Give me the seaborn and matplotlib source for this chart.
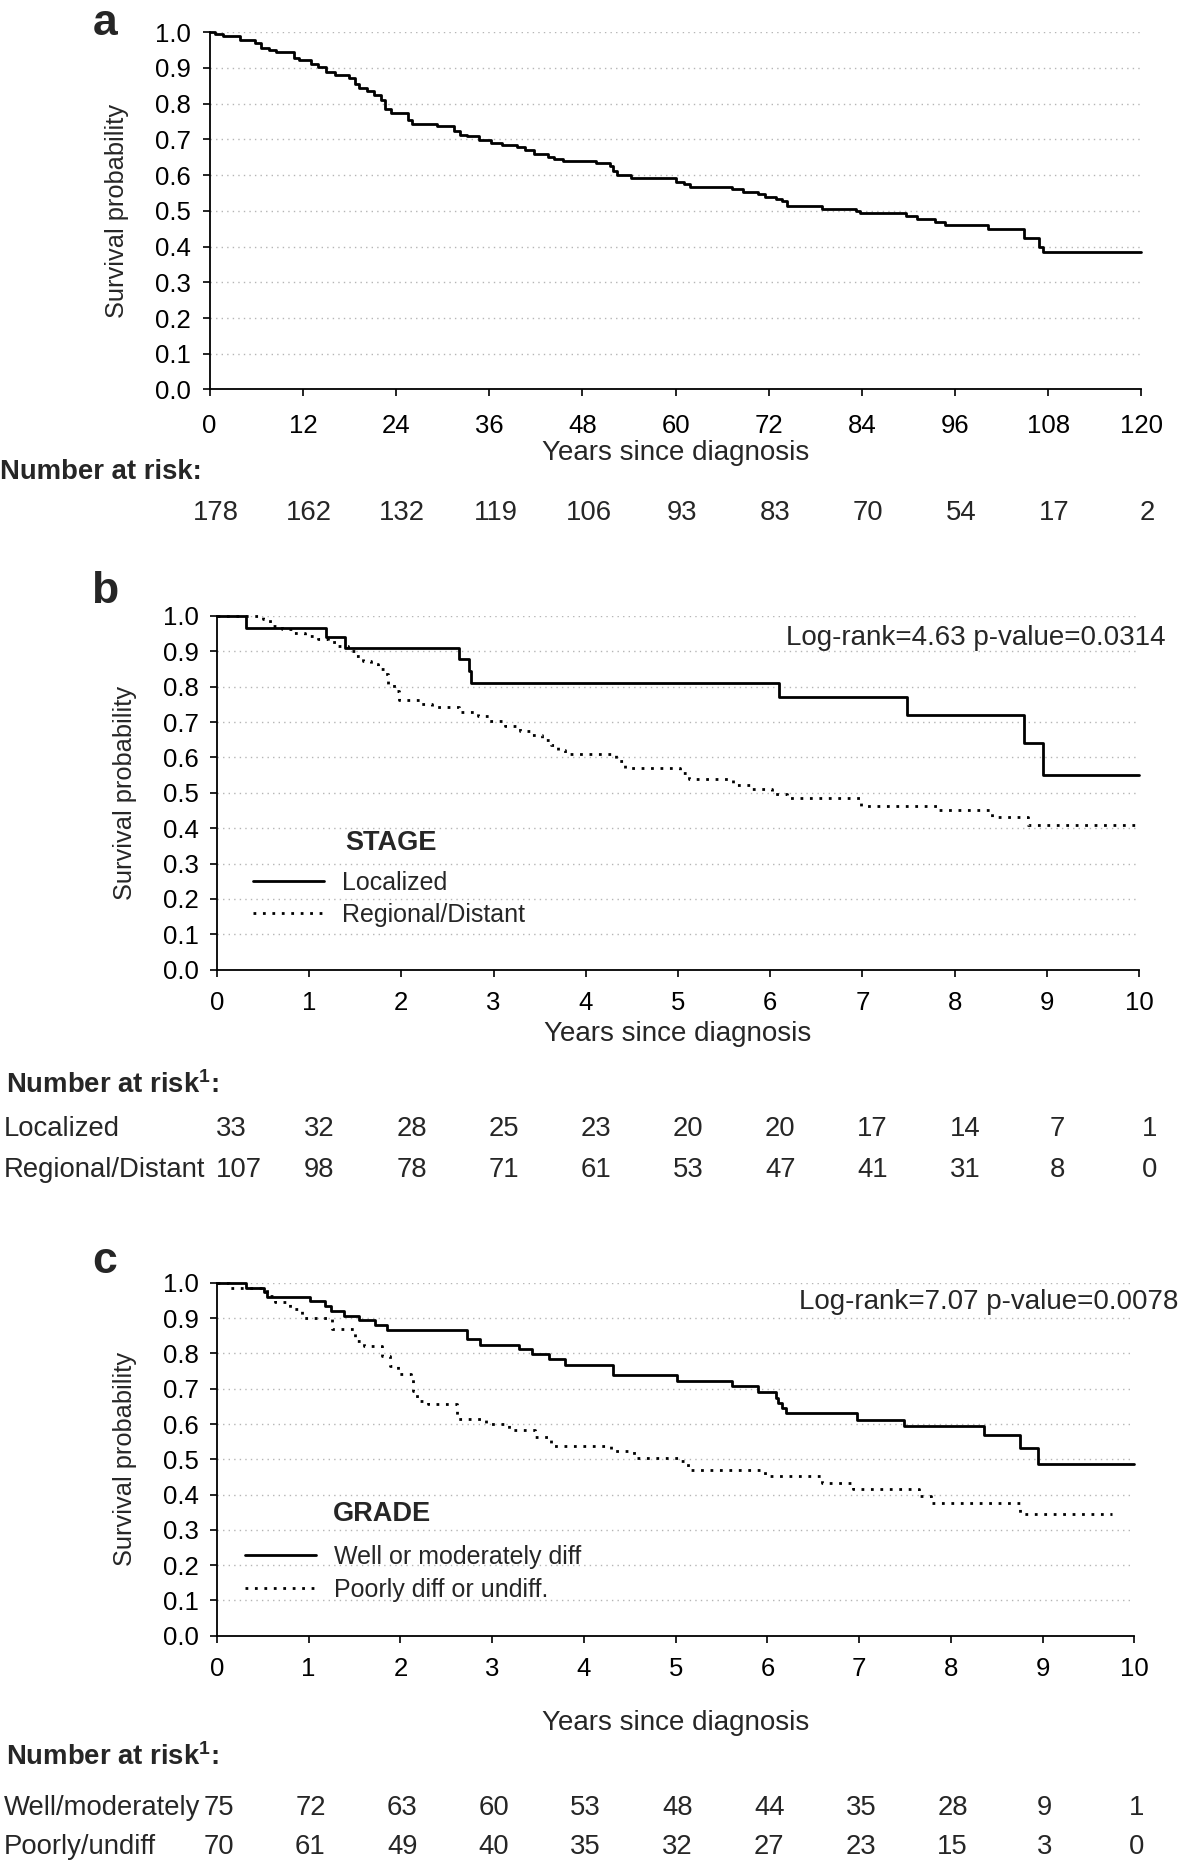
import numpy as np
import pandas as pd
import matplotlib
matplotlib.use("Agg")
import matplotlib.pyplot as plt
import seaborn as sns
from matplotlib import transforms
from matplotlib.lines import Line2D

# ---------------- data ----------------
# Panel a: overall survival (x axis in months, labelled as in original)
t_all = [0, 0.7, 1.7, 3.9, 5.9, 6.6, 7.6, 8.6, 10.8, 11.5, 13.0, 14.0, 15.0, 16.2, 17.9,
         18.7, 19.2, 20.2, 21.1, 22.1, 22.6, 23.4, 25.6, 26.1, 29.3, 31.5, 32.2, 33.2,
         34.7, 36.2, 37.7, 39.6, 40.6, 41.8, 43.6, 44.3, 45.5, 49.7, 51.5, 51.9, 52.4,
         54.2, 60.1, 61.1, 61.8, 67.3, 68.7, 70.6, 71.5, 72.9, 73.7, 74.4, 78.9, 83.2,
         83.7, 89.7, 91.1, 93.4, 94.7, 100.2, 104.9, 106.8, 107.3, 120]
s_all = [1.0, 0.995, 0.99, 0.978, 0.969, 0.955, 0.951, 0.944, 0.928, 0.921, 0.912, 0.902,
         0.888, 0.879, 0.873, 0.856, 0.845, 0.835, 0.823, 0.811, 0.786, 0.774, 0.755,
         0.744, 0.738, 0.724, 0.712, 0.709, 0.698, 0.691, 0.685, 0.679, 0.670, 0.660,
         0.651, 0.645, 0.640, 0.635, 0.624, 0.612, 0.600, 0.593, 0.580, 0.574, 0.567,
         0.560, 0.553, 0.547, 0.540, 0.533, 0.527, 0.513, 0.506, 0.500, 0.493, 0.486,
         0.478, 0.470, 0.460, 0.450, 0.423, 0.400, 0.384, 0.384]
ticks_a = [0, 12, 24, 36, 48, 60, 72, 84, 96, 108, 120]
risk_all = [178, 162, 132, 119, 106, 93, 83, 70, 54, 17, 2]

# Panel b: by stage (years)
t_loc = [0, 0.32, 1.18, 1.39, 2.62, 2.73, 2.755, 6.09, 7.48, 8.75, 8.96, 10.0]
s_loc = [1.0, 0.967, 0.939, 0.908, 0.877, 0.845, 0.809, 0.772, 0.72, 0.640, 0.549, 0.549]
t_reg = [0, 0.50, 0.58, 0.71, 0.84, 0.96, 1.10, 1.20, 1.30, 1.42, 1.50, 1.58, 1.67, 1.75,
         1.82, 1.86, 1.92, 1.98, 2.21, 2.33, 2.62, 2.83, 2.95, 3.12, 3.29, 3.42, 3.52,
         3.62, 3.70, 3.78, 4.33, 4.42, 5.02, 5.12, 5.60, 5.80, 6.02, 6.18, 6.98, 7.81,
         8.41, 8.79, 10.0]
s_reg = [1.0, 0.990, 0.972, 0.962, 0.953, 0.944, 0.934, 0.925, 0.915, 0.901, 0.887, 0.873,
         0.864, 0.850, 0.836, 0.808, 0.789, 0.761, 0.751, 0.742, 0.728, 0.718, 0.704,
         0.690, 0.676, 0.662, 0.648, 0.634, 0.620, 0.610, 0.590, 0.570, 0.557, 0.540,
         0.521, 0.510, 0.497, 0.486, 0.463, 0.452, 0.432, 0.408, 0.408]
risk_loc = [33, 32, 28, 25, 23, 20, 20, 17, 14, 7, 1]
risk_reg = [107, 98, 78, 71, 61, 53, 47, 41, 31, 8, 0]

# Panel c: by grade (years)
t_well = [0, 0.32, 0.51, 0.55, 1.01, 1.18, 1.24, 1.39, 1.55, 1.72, 1.85, 2.73, 2.87, 3.29,
          3.43, 3.62, 3.79, 4.32, 5.02, 5.61, 5.90, 6.09, 6.12, 6.16, 6.20, 6.98, 7.49,
          8.36, 8.75, 8.95, 10.0]
s_well = [1.0, 0.986, 0.973, 0.961, 0.948, 0.935, 0.921, 0.907, 0.895, 0.881, 0.866,
          0.841, 0.825, 0.812, 0.798, 0.784, 0.768, 0.739, 0.723, 0.708, 0.691, 0.675,
          0.659, 0.645, 0.630, 0.611, 0.594, 0.568, 0.531, 0.486, 0.486]
t_poor = [0, 0.13, 0.55, 0.63, 0.80, 0.93, 1.26, 1.51, 1.60, 1.80, 1.89, 1.97, 2.12, 2.14,
          2.18, 2.30, 2.62, 2.93, 3.18, 3.47, 3.64, 4.30, 4.55, 5.06, 5.14, 5.97, 6.60,
          6.93, 7.65, 7.78, 8.75, 9.76]
s_poor = [1.0, 0.986, 0.964, 0.945, 0.926, 0.901, 0.868, 0.836, 0.822, 0.794, 0.765,
          0.741, 0.732, 0.694, 0.666, 0.656, 0.614, 0.599, 0.582, 0.562, 0.538, 0.524,
          0.505, 0.495, 0.469, 0.453, 0.434, 0.417, 0.396, 0.376, 0.344, 0.344]
risk_well = [75, 72, 63, 60, 53, 48, 44, 35, 28, 9, 1]
risk_poor = [70, 61, 49, 40, 35, 32, 27, 23, 15, 3, 0]
ticks_yr = list(range(0, 11))

# ---------------- style ----------------
sns.set_style("ticks")
plt.rcParams["font.family"] = ["Liberation Sans", "DejaVu Sans"]
plt.rcParams["mathtext.fontset"] = "custom"
plt.rcParams["mathtext.rm"] = "Liberation Sans"
plt.rcParams["mathtext.bf"] = "Liberation Sans:bold"
plt.rcParams["mathtext.default"] = "regular"

SOLID = dict(color="black", linewidth=2.0, linestyle="-")
DOT = dict(color="black", linewidth=2.0, linestyle=(0, (1, 2.4)))
TICK_FS = 18.5
XLAB_FS = 20
YLAB_FS = 18.3
RISK_FS = 19.8

fig = plt.figure(figsize=(11.82, 18.68), dpi=100)


def style_axes(ax, xticks, xlim, xlabel_y, xpad):
    ax.set_xlim(*xlim)
    ax.set_ylim(0, 1.0)
    ax.set_xticks(xticks)
    ax.set_yticks(np.round(np.arange(0, 1.01, 0.1), 1))
    ax.set_yticklabels([f"{v:.1f}" for v in np.arange(0, 1.01, 0.1)])
    for side in ["top", "right"]:
        ax.spines[side].set_visible(False)
    for side in ["left", "bottom"]:
        ax.spines[side].set_linewidth(1.3)
        ax.spines[side].set_color("black")
    ax.tick_params(axis="both", direction="out", length=5.3, width=1.2,
                   labelsize=TICK_FS, colors="black")
    ax.tick_params(axis="y", pad=8)
    ax.tick_params(axis="x", pad=xpad)
    ax.yaxis.grid(True, color="#b5b5b5", linestyle=(0, (1, 3)), linewidth=1.0)
    ax.xaxis.grid(False)
    ax.set_axisbelow(True)
    ax.set_ylabel("Survival probability", fontsize=YLAB_FS)
    ax.yaxis.set_label_coords(-0.10, 0.5)
    ax.yaxis.label.set_va("center")
    ax.yaxis.label.set_ha("center")
    ax.set_xlabel("Years since diagnosis", fontsize=XLAB_FS)
    ax.xaxis.set_label_coords(0.5, xlabel_y)
    ax.xaxis.label.set_va("center")


def km(ax, t, s, st):
    sns.lineplot(x=t, y=s, ax=ax, drawstyle="steps-post", estimator=None,
                 sort=False, legend=False, clip_on=False, **st)


# ---------------- panel a ----------------
ax_a = fig.add_axes([0.1774, 0.7915, 0.7883, 0.1913])
km(ax_a, t_all, s_all, SOLID)
style_axes(ax_a, ticks_a, (0, 120), -0.177, 12)

# ---------------- panel b ----------------
ax_b = fig.add_axes([0.1835, 0.4809, 0.7802, 0.1894])
km(ax_b, t_loc, s_loc, SOLID)
km(ax_b, t_reg, s_reg, DOT)
style_axes(ax_b, ticks_yr, (0, 10), -0.182, 10)
hb = [Line2D([], [], **SOLID), Line2D([], [], **DOT)]
ax_b.legend(hb, ["Localized", "Regional/Distant"], loc="center left",
            bbox_to_anchor=(0.0388, 0.2003), frameon=False, fontsize=18,
            handlelength=2.86, handletextpad=0.72, labelspacing=0.3,
            borderpad=0, borderaxespad=0)
ax_b.text(0.1395, 0.357, "STAGE", transform=ax_b.transAxes, fontsize=19.5,
          fontweight="bold", ha="left", va="center")

# ---------------- panel c ----------------
ax_c = fig.add_axes([0.1835, 0.1244, 0.7762, 0.1888])
km(ax_c, t_well, s_well, SOLID)
km(ax_c, t_poor, s_poor, DOT)
style_axes(ax_c, ticks_yr, (0, 10), -0.2466, 10)
hc = [Line2D([], [], **SOLID), Line2D([], [], **DOT)]
ax_c.legend(hc, ["Well or moderately diff", "Poorly diff or undiff."], loc="center left",
            bbox_to_anchor=(0.0306, 0.1768), frameon=False, fontsize=18,
            handlelength=2.86, handletextpad=0.72, labelspacing=0.35,
            borderpad=0, borderaxespad=0)
ax_c.text(0.1266, 0.345, "GRADE", transform=ax_c.transAxes, fontsize=19.5,
          fontweight="bold", ha="left", va="center")

# ---------------- panel letters & statistics ----------------
for letter, y in [("a", 0.9815), ("b", 0.6772), ("c", 0.3185)]:
    fig.text(0.0887, y, letter, fontsize=32, fontweight="bold", ha="center", va="baseline")
fig.text(0.986, 0.6582, "Log-rank=4.63 p-value=0.0314", fontsize=20, ha="right", va="center")
fig.text(0.997, 0.3029, "Log-rank=7.07 p-value=0.0078", fontsize=20, ha="right", va="center")

# ---------------- number at risk tables ----------------
fig.text(0.0, 0.7474, "Number at risk:", fontsize=RISK_FS, fontweight="bold",
         ha="left", va="center")
tr_a = transforms.blended_transform_factory(ax_a.transData, fig.transFigure)
for x, n in zip(ticks_a, risk_all):
    fig.text(x + 0.8, 0.7253, str(n), transform=tr_a, fontsize=RISK_FS,
             ha="center", va="center")

fig.text(0.005, 0.4193, r"Number at risk$^{1}$:", fontsize=RISK_FS, fontweight="bold",
         ha="left", va="center")
fig.text(0.003, 0.3954, "Localized", fontsize=RISK_FS, ha="left", va="center")
fig.text(0.003, 0.3737, "Regional/Distant", fontsize=RISK_FS, ha="left", va="center")
tr_b = transforms.blended_transform_factory(ax_b.transData, fig.transFigure)
for i, (x, n1, n2) in enumerate(zip(ticks_yr, risk_loc, risk_reg)):
    if i == 0:
        xs, ha = x - 0.01, "left"
    else:
        xs, ha = x + 0.11, "center"
    fig.text(xs, 0.3954, str(n1), transform=tr_b, fontsize=RISK_FS, ha=ha, va="center")
    fig.text(xs, 0.3737, str(n2), transform=tr_b, fontsize=RISK_FS, ha=ha, va="center")

fig.text(0.005, 0.0596, r"Number at risk$^{1}$:", fontsize=RISK_FS, fontweight="bold",
         ha="left", va="center")
fig.text(0.003, 0.0319, "Well/moderately", fontsize=RISK_FS, ha="left", va="center")
fig.text(0.003, 0.0110, "Poorly/undiff", fontsize=RISK_FS, ha="left", va="center")
tr_c = transforms.blended_transform_factory(ax_c.transData, fig.transFigure)
for x, n1, n2 in zip(ticks_yr, risk_well, risk_poor):
    fig.text(x + 0.02, 0.0319, str(n1), transform=tr_c, fontsize=RISK_FS,
             ha="center", va="center")
    fig.text(x + 0.02, 0.0110, str(n2), transform=tr_c, fontsize=RISK_FS,
             ha="center", va="center")

fig.savefig("out.png", dpi=100, facecolor="white")
